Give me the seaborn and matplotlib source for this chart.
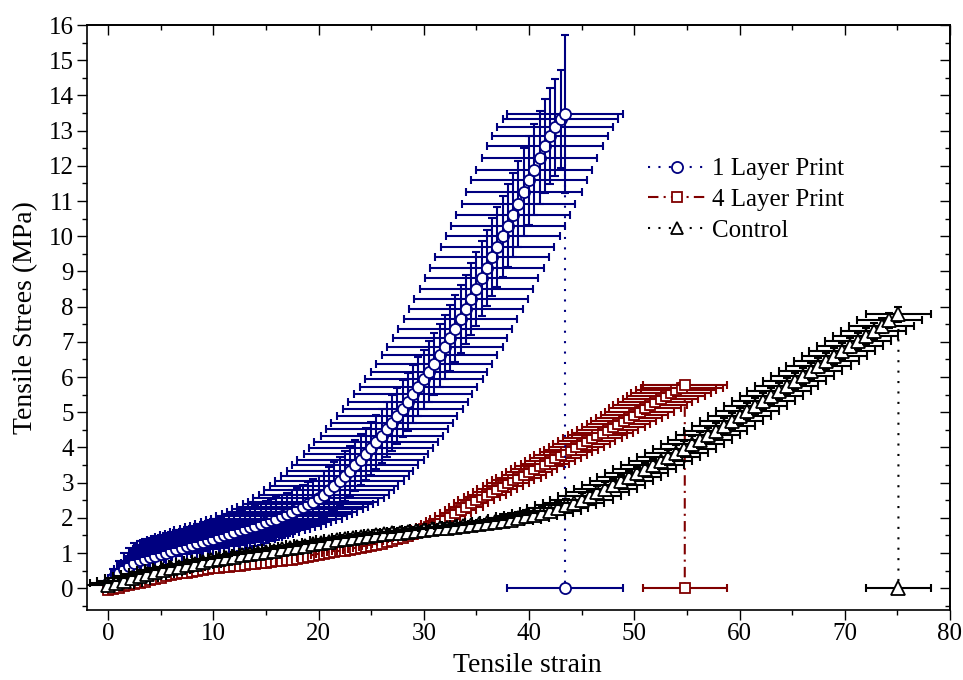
import numpy as np
import pandas as pd
import matplotlib
matplotlib.use("Agg")
import matplotlib.pyplot as plt
import seaborn as sns
from matplotlib.lines import Line2D
from matplotlib.ticker import MultipleLocator

# ---- data ----
# 1 Layer Print
blue_strain = [
    0.0, 0.5, 1.0, 1.5, 2.0, 2.5, 3.0, 3.5, 4.0, 4.5,
    5.0, 5.5, 6.0, 6.5, 7.0, 7.5, 8.0, 8.5, 9.0, 9.5,
    10.0, 10.5, 11.0, 11.5, 12.0, 12.5, 13.0, 13.5, 14.0, 14.5,
    15.0, 15.5, 16.0, 16.5, 17.0, 17.5, 18.0, 18.5, 19.0, 19.5,
    20.0, 20.5, 21.0, 21.5, 22.0, 22.5, 23.0, 23.5, 24.0, 24.5,
    25.0, 25.5, 26.0, 26.5, 27.0, 27.5, 28.0, 28.5, 29.0, 29.5,
    30.0, 30.5, 31.0, 31.5, 32.0, 32.5, 33.0, 33.5, 34.0, 34.5,
    35.0, 35.5, 36.0, 36.5, 37.0, 37.5, 38.0, 38.5, 39.0, 39.5,
    40.0, 40.5, 41.0, 41.5, 42.0, 42.5, 43.0, 43.42]
blue_stress = [
    0.15, 0.29, 0.42, 0.54, 0.64, 0.73, 0.79, 0.84, 0.88, 0.92,
    0.96, 1.01, 1.05, 1.10, 1.14, 1.19, 1.23, 1.28, 1.32, 1.37,
    1.41, 1.46, 1.50, 1.55, 1.60, 1.64, 1.69, 1.73, 1.78, 1.83,
    1.88, 1.93, 1.98, 2.04, 2.10, 2.17, 2.24, 2.31, 2.38, 2.46,
    2.55, 2.66, 2.78, 2.91, 3.05, 3.19, 3.34, 3.49, 3.65, 3.81,
    3.98, 4.15, 4.33, 4.51, 4.70, 4.90, 5.10, 5.30, 5.51, 5.72,
    5.93, 6.15, 6.38, 6.62, 6.86, 7.11, 7.37, 7.64, 7.92, 8.21,
    8.50, 8.80, 9.10, 9.40, 9.70, 10.00, 10.30, 10.61, 10.92, 11.26,
    11.59, 11.89, 12.23, 12.56, 12.84, 13.10, 13.33, 13.47]
blue_strain_err = [
    0.3, 0.5, 0.7, 0.9, 1.1, 1.3, 1.5, 1.8, 2.1, 2.5,
    2.9, 3.3, 3.7, 4.1, 4.5, 4.9, 5.2, 5.5, 5.7, 5.8,
    5.9, 6.0, 6.1, 6.1, 6.1, 6.2, 6.2, 6.2, 6.2, 6.2,
    6.2, 6.2, 6.2, 6.2, 6.2, 6.2, 6.2, 6.2, 6.2, 6.2,
    6.2, 6.2, 6.2, 6.1, 6.1, 6.1, 6.0, 6.0, 6.0, 5.9,
    5.9, 5.9, 5.8, 5.8, 5.8, 5.7, 5.7, 5.7, 5.6, 5.6,
    5.6, 5.5, 5.5, 5.5, 5.5, 5.4, 5.4, 5.4, 5.4, 5.4,
    5.4, 5.4, 5.4, 5.4, 5.4, 5.4, 5.4, 5.4, 5.4, 5.5,
    5.5, 5.5, 5.5, 5.5, 5.5, 5.5, 5.5, 5.5]
blue_stress_err = [
    0.15, 0.25, 0.35, 0.45, 0.50, 0.55, 0.55, 0.55, 0.55, 0.55,
    0.55, 0.55, 0.55, 0.55, 0.55, 0.55, 0.55, 0.55, 0.55, 0.55,
    0.56, 0.56, 0.56, 0.57, 0.57, 0.57, 0.58, 0.58, 0.58, 0.59,
    0.59, 0.60, 0.60, 0.61, 0.61, 0.62, 0.62, 0.63, 0.63, 0.64,
    0.65, 0.66, 0.67, 0.68, 0.69, 0.70, 0.71, 0.72, 0.73, 0.74,
    0.75, 0.76, 0.77, 0.78, 0.79, 0.80, 0.81, 0.82, 0.83, 0.84,
    0.85, 0.86, 0.88, 0.90, 0.91, 0.93, 0.95, 0.97, 0.99, 1.02,
    1.04, 1.06, 1.08, 1.11, 1.13, 1.15, 1.17, 1.20, 1.22, 1.24,
    1.27, 1.29, 1.32, 1.34, 1.36, 1.38, 1.40, 2.25]
blue_break_err = 5.5

# 4 Layer Print
red_strain = [
    0.0, 0.5, 1.0, 1.5, 2.0, 2.5, 3.0, 3.5, 4.0, 4.5,
    5.0, 5.5, 6.0, 6.5, 7.0, 7.5, 8.0, 8.5, 9.0, 9.5,
    10.0, 10.5, 11.0, 11.5, 12.0, 12.5, 13.0, 13.5, 14.0, 14.5,
    15.0, 15.5, 16.0, 16.5, 17.0, 17.5, 18.0, 18.5, 19.0, 19.5,
    20.0, 20.5, 21.0, 21.5, 22.0, 22.5, 23.0, 23.5, 24.0, 24.5,
    25.0, 25.5, 26.0, 26.5, 27.0, 27.5, 28.0, 28.5, 29.0, 29.5,
    30.0, 30.5, 31.0, 31.5, 32.0, 32.5, 33.0, 33.5, 34.0, 34.5,
    35.0, 35.5, 36.0, 36.5, 37.0, 37.5, 38.0, 38.5, 39.0, 39.5,
    40.0, 40.5, 41.0, 41.5, 42.0, 42.5, 43.0, 43.5, 44.0, 44.5,
    45.0, 45.5, 46.0, 46.5, 47.0, 47.5, 48.0, 48.5, 49.0, 49.5,
    50.0, 50.5, 51.0, 51.5, 52.0, 52.5, 53.0, 53.5, 54.0, 54.5,
    54.8]
red_stress = [
    -0.05, -0.02, 0.02, 0.05, 0.09, 0.12, 0.16, 0.19, 0.23, 0.27,
    0.30, 0.34, 0.37, 0.40, 0.42, 0.44, 0.47, 0.49, 0.51, 0.54,
    0.56, 0.58, 0.59, 0.61, 0.63, 0.64, 0.66, 0.68, 0.70, 0.72,
    0.73, 0.75, 0.77, 0.78, 0.79, 0.81, 0.83, 0.86, 0.89, 0.92,
    0.95, 0.98, 1.01, 1.03, 1.05, 1.07, 1.09, 1.11, 1.14, 1.17,
    1.20, 1.23, 1.27, 1.31, 1.35, 1.39, 1.44, 1.49, 1.55, 1.61,
    1.68, 1.75, 1.82, 1.90, 1.98, 2.06, 2.14, 2.23, 2.32, 2.41,
    2.50, 2.58, 2.66, 2.74, 2.82, 2.90, 2.98, 3.06, 3.14, 3.22,
    3.30, 3.38, 3.46, 3.54, 3.62, 3.70, 3.78, 3.86, 3.94, 4.02,
    4.10, 4.18, 4.26, 4.34, 4.42, 4.50, 4.58, 4.66, 4.75, 4.84,
    4.93, 5.02, 5.11, 5.20, 5.29, 5.38, 5.47, 5.55, 5.62, 5.69,
    5.76]
red_strain_err = [
    0.1, 0.1, 0.1, 0.1, 0.1, 0.1, 0.1, 0.1, 0.1, 0.1,
    0.2, 0.2, 0.2, 0.2, 0.2, 0.2, 0.2, 0.2, 0.2, 0.2,
    0.4, 0.4, 0.4, 0.4, 0.4, 0.4, 0.4, 0.4, 0.4, 0.4,
    0.5, 0.5, 0.5, 0.5, 0.5, 0.5, 0.5, 0.5, 0.5, 0.5,
    0.7, 0.7, 0.7, 0.7, 0.7, 0.7, 0.7, 0.7, 0.7, 0.7,
    0.9, 0.9, 0.9, 0.9, 0.9, 0.9, 0.9, 0.9, 0.9, 0.9,
    1.2, 1.2, 1.3, 1.3, 1.4, 1.4, 1.5, 1.5, 1.6, 1.6,
    1.7, 1.7, 1.8, 1.8, 1.9, 1.9, 2.0, 2.0, 2.1, 2.1,
    2.2, 2.2, 2.3, 2.3, 2.4, 2.4, 2.5, 2.5, 2.6, 2.6,
    2.7, 2.7, 2.8, 2.8, 2.9, 2.9, 3.0, 3.0, 3.1, 3.1,
    3.2, 3.3, 3.4, 3.5, 3.5, 3.6, 3.7, 3.8, 3.8, 3.9,
    4.0]
red_stress_err = [
    0.05, 0.05, 0.05, 0.05, 0.05, 0.05, 0.05, 0.05, 0.05, 0.05,
    0.05, 0.05, 0.05, 0.05, 0.05, 0.05, 0.05, 0.05, 0.05, 0.05,
    0.05, 0.05, 0.05, 0.05, 0.05, 0.05, 0.05, 0.05, 0.05, 0.05,
    0.05, 0.05, 0.05, 0.05, 0.05, 0.05, 0.05, 0.05, 0.05, 0.05,
    0.07, 0.07, 0.07, 0.07, 0.07, 0.07, 0.07, 0.07, 0.07, 0.07,
    0.07, 0.07, 0.07, 0.07, 0.07, 0.07, 0.07, 0.07, 0.07, 0.07,
    0.08, 0.08, 0.08, 0.08, 0.08, 0.08, 0.08, 0.08, 0.08, 0.08,
    0.10, 0.10, 0.10, 0.10, 0.10, 0.10, 0.10, 0.10, 0.10, 0.10,
    0.11, 0.11, 0.11, 0.11, 0.11, 0.11, 0.11, 0.11, 0.11, 0.11,
    0.13, 0.13, 0.13, 0.13, 0.13, 0.13, 0.13, 0.13, 0.13, 0.13,
    0.15, 0.15, 0.15, 0.15, 0.15, 0.15, 0.15, 0.15, 0.15, 0.15,
    0.10]
red_break_err = 4.0

# Control
black_strain = [
    0.0, 0.75, 1.5, 2.25, 3.0, 3.75, 4.5, 5.25, 6.0, 6.75,
    7.5, 8.25, 9.0, 9.75, 10.5, 11.25, 12.0, 12.75, 13.5, 14.25,
    15.0, 15.75, 16.5, 17.25, 18.0, 18.75, 19.5, 20.25, 21.0, 21.75,
    22.5, 23.25, 24.0, 24.75, 25.5, 26.25, 27.0, 27.75, 28.5, 29.25,
    30.0, 30.75, 31.5, 32.25, 33.0, 33.75, 34.5, 35.25, 36.0, 36.75,
    37.5, 38.25, 39.0, 39.75, 40.5, 41.25, 42.0, 42.75, 43.5, 44.25,
    45.0, 45.75, 46.5, 47.25, 48.0, 48.75, 49.5, 50.25, 51.0, 51.75,
    52.5, 53.25, 54.0, 54.75, 55.5, 56.25, 57.0, 57.75, 58.5, 59.25,
    60.0, 60.75, 61.5, 62.25, 63.0, 63.75, 64.5, 65.25, 66.0, 66.75,
    67.5, 68.25, 69.0, 69.75, 70.5, 71.25, 72.0, 72.75, 73.5, 74.25,
    75.1]
black_stress = [
    0.08, 0.15, 0.21, 0.28, 0.34, 0.40, 0.46, 0.51, 0.56, 0.61,
    0.66, 0.70, 0.75, 0.79, 0.83, 0.86, 0.90, 0.93, 0.97, 1.00,
    1.03, 1.07, 1.11, 1.14, 1.18, 1.21, 1.25, 1.28, 1.32, 1.36,
    1.40, 1.43, 1.46, 1.49, 1.52, 1.54, 1.56, 1.58, 1.61, 1.63,
    1.65, 1.67, 1.70, 1.72, 1.74, 1.76, 1.79, 1.82, 1.85, 1.88,
    1.92, 1.95, 1.99, 2.04, 2.09, 2.14, 2.20, 2.27, 2.35, 2.43,
    2.52, 2.62, 2.72, 2.83, 2.93, 3.04, 3.16, 3.27, 3.38, 3.49,
    3.61, 3.72, 3.84, 3.96, 4.09, 4.21, 4.34, 4.48, 4.61, 4.75,
    4.89, 5.03, 5.18, 5.32, 5.46, 5.60, 5.75, 5.89, 6.03, 6.17,
    6.32, 6.46, 6.60, 6.74, 6.89, 7.03, 7.17, 7.31, 7.46, 7.61,
    7.78]
black_strain_err = [
    2.5, 2.5, 2.5, 2.5, 2.5, 2.5, 2.5, 2.5, 2.5, 2.5,
    2.5, 2.5, 2.5, 2.5, 2.5, 2.5, 2.5, 2.5, 2.5, 2.5,
    2.6, 2.6, 2.6, 2.6, 2.6, 2.6, 2.6, 2.6, 2.6, 2.6,
    2.7, 2.7, 2.7, 2.7, 2.7, 2.7, 2.7, 2.7, 2.7, 2.7,
    2.8, 2.8, 2.8, 2.8, 2.8, 2.8, 2.8, 2.8, 2.8, 2.8,
    2.9, 2.9, 2.9, 2.9, 2.9, 2.9, 2.9, 2.9, 2.9, 2.9,
    3.0, 3.0, 3.0, 3.0, 3.0, 3.0, 3.0, 3.0, 3.0, 3.0,
    3.0, 3.0, 3.0, 3.0, 3.0, 3.0, 3.0, 3.0, 3.0, 3.0,
    3.0, 3.0, 3.0, 3.0, 3.0, 3.0, 3.0, 3.0, 3.0, 3.0,
    3.1, 3.1, 3.1, 3.1, 3.1, 3.1, 3.1, 3.1, 3.1, 3.1,
    3.1]
black_stress_err = [
    0.12, 0.12, 0.12, 0.12, 0.12, 0.12, 0.12, 0.12, 0.12, 0.12,
    0.12, 0.12, 0.12, 0.12, 0.12, 0.12, 0.12, 0.12, 0.12, 0.12,
    0.12, 0.12, 0.12, 0.12, 0.12, 0.12, 0.12, 0.12, 0.12, 0.12,
    0.12, 0.12, 0.12, 0.12, 0.12, 0.12, 0.12, 0.12, 0.12, 0.12,
    0.12, 0.12, 0.12, 0.12, 0.12, 0.12, 0.12, 0.12, 0.12, 0.12,
    0.18, 0.18, 0.18, 0.18, 0.18, 0.18, 0.18, 0.18, 0.18, 0.18,
    0.18, 0.18, 0.18, 0.18, 0.18, 0.18, 0.18, 0.18, 0.18, 0.18,
    0.22, 0.22, 0.22, 0.22, 0.22, 0.22, 0.22, 0.22, 0.22, 0.22,
    0.22, 0.22, 0.22, 0.22, 0.22, 0.22, 0.22, 0.22, 0.22, 0.22,
    0.22, 0.22, 0.22, 0.22, 0.22, 0.22, 0.22, 0.22, 0.22, 0.22,
    0.22]
black_break_err = 3.1

series_labels = ["1 Layer Print", "4 Layer Print", "Control"]

BLUE = "#000080"
RED = "#800000"
BLACK = "#000000"

sns.set_theme(style="ticks")
plt.rcParams["font.family"] = ["Liberation Serif", "DejaVu Serif"]
plt.rcParams.update({
    "axes.edgecolor": "black",
    "text.color": "black",
    "axes.labelcolor": "black",
    "xtick.color": "black",
    "ytick.color": "black",
})


def draw_series(ax, strain, stress, strain_err, stress_err, break_err,
                color, ls, marker, ms, z):
    # last point is repeated at zero stress (the failure strain marker)
    xs = list(strain) + [strain[-1]]
    ys = list(stress) + [0.0]
    xe = list(strain_err) + [break_err]
    ye = list(stress_err) + [0.0]

    # connecting line (shows as the drop line to the failure point)
    df = pd.DataFrame({"strain": xs, "stress": ys})
    sns.lineplot(data=df, x="strain", y="stress", ax=ax, sort=False,
                 estimator=None, color=color, linestyle=ls, linewidth=1.5,
                 zorder=z - 0.01, legend=False)

    # point by point, so later bars sit over earlier symbols
    n = len(xs)
    for i in range(n):
        zi = z + 0.9 * i / n
        ax.errorbar([xs[i]], [ys[i]], xerr=[xe[i]], yerr=[ye[i]], fmt="none",
                    ecolor=color, elinewidth=1.5, capsize=3, capthick=1.5,
                    zorder=zi)
        ax.plot([xs[i]], [ys[i]], linestyle="none", marker=marker,
                markersize=ms, markerfacecolor="white", markeredgecolor=color,
                markeredgewidth=1.3, zorder=zi + 0.4 / n)


fig = plt.figure(figsize=(9.63, 6.8), dpi=100)
ax = fig.add_axes([0.0903, 0.1029, 0.8962, 0.8603])

dot = (0, (1, 4))
dashdot = (0, (5, 2.5, 1, 2.5))

draw_series(ax, red_strain, red_stress, red_strain_err, red_stress_err,
            red_break_err, RED, dashdot, "s", 7, 2)
draw_series(ax, blue_strain, blue_stress, blue_strain_err, blue_stress_err,
            blue_break_err, BLUE, dot, "o", 8, 3)
draw_series(ax, black_strain, black_stress, black_strain_err, black_stress_err,
            black_break_err, BLACK, dot, "^", 10, 4)

ax.set_xlim(-2, 80)
ax.set_ylim(-0.62, 16)
ax.xaxis.set_major_locator(MultipleLocator(10))
ax.xaxis.set_minor_locator(MultipleLocator(5))
ax.yaxis.set_major_locator(MultipleLocator(1))
ax.yaxis.set_minor_locator(MultipleLocator(0.5))
ax.tick_params(which="major", direction="out", length=7.5, width=1.0,
               labelsize=18, pad=2)
ax.tick_params(which="minor", direction="out", length=3.6, width=1.0)
for sp in ax.spines.values():
    sp.set_linewidth(1.2)
    sp.set_visible(True)

# mirrored axes with inward ticks
top = ax.secondary_xaxis("top")
top.xaxis.set_major_locator(MultipleLocator(10))
top.xaxis.set_minor_locator(MultipleLocator(5))
top.tick_params(which="major", direction="in", length=7, width=1.0, labeltop=False)
top.tick_params(which="minor", direction="in", length=3.6, width=1.0)
right = ax.secondary_yaxis("right")
right.yaxis.set_major_locator(MultipleLocator(1))
right.yaxis.set_minor_locator(MultipleLocator(0.5))
right.tick_params(which="major", direction="in", length=7, width=1.0, labelright=False)
right.tick_params(which="minor", direction="in", length=3.6, width=1.0)

ax.set_xlabel("Tensile strain", fontsize=20)
ax.set_ylabel("Tensile Strees (MPa)", fontsize=20)
ax.xaxis.set_label_coords(0.51, -0.074)
ax.yaxis.set_label_coords(-0.057, 0.5)

handles = [
    Line2D([], [], color=BLUE, linestyle=dot, linewidth=1.5, marker="o",
           markersize=8, markerfacecolor="white", markeredgecolor=BLUE,
           markeredgewidth=1.3),
    Line2D([], [], color=RED, linestyle=dashdot, linewidth=1.5, marker="s",
           markersize=7, markerfacecolor="white", markeredgecolor=RED,
           markeredgewidth=1.3),
    Line2D([], [], color=BLACK, linestyle=dot, linewidth=1.5, marker="^",
           markersize=9, markerfacecolor="white", markeredgecolor=BLACK,
           markeredgewidth=1.3),
]
ax.legend(handles, series_labels, loc="upper left", bbox_to_anchor=(0.650, 0.773),
          frameon=False, fontsize=18, handlelength=2.36, handletextpad=0.2,
          labelspacing=0.33, borderaxespad=0, borderpad=0)

fig.savefig("out.png", dpi=100)
